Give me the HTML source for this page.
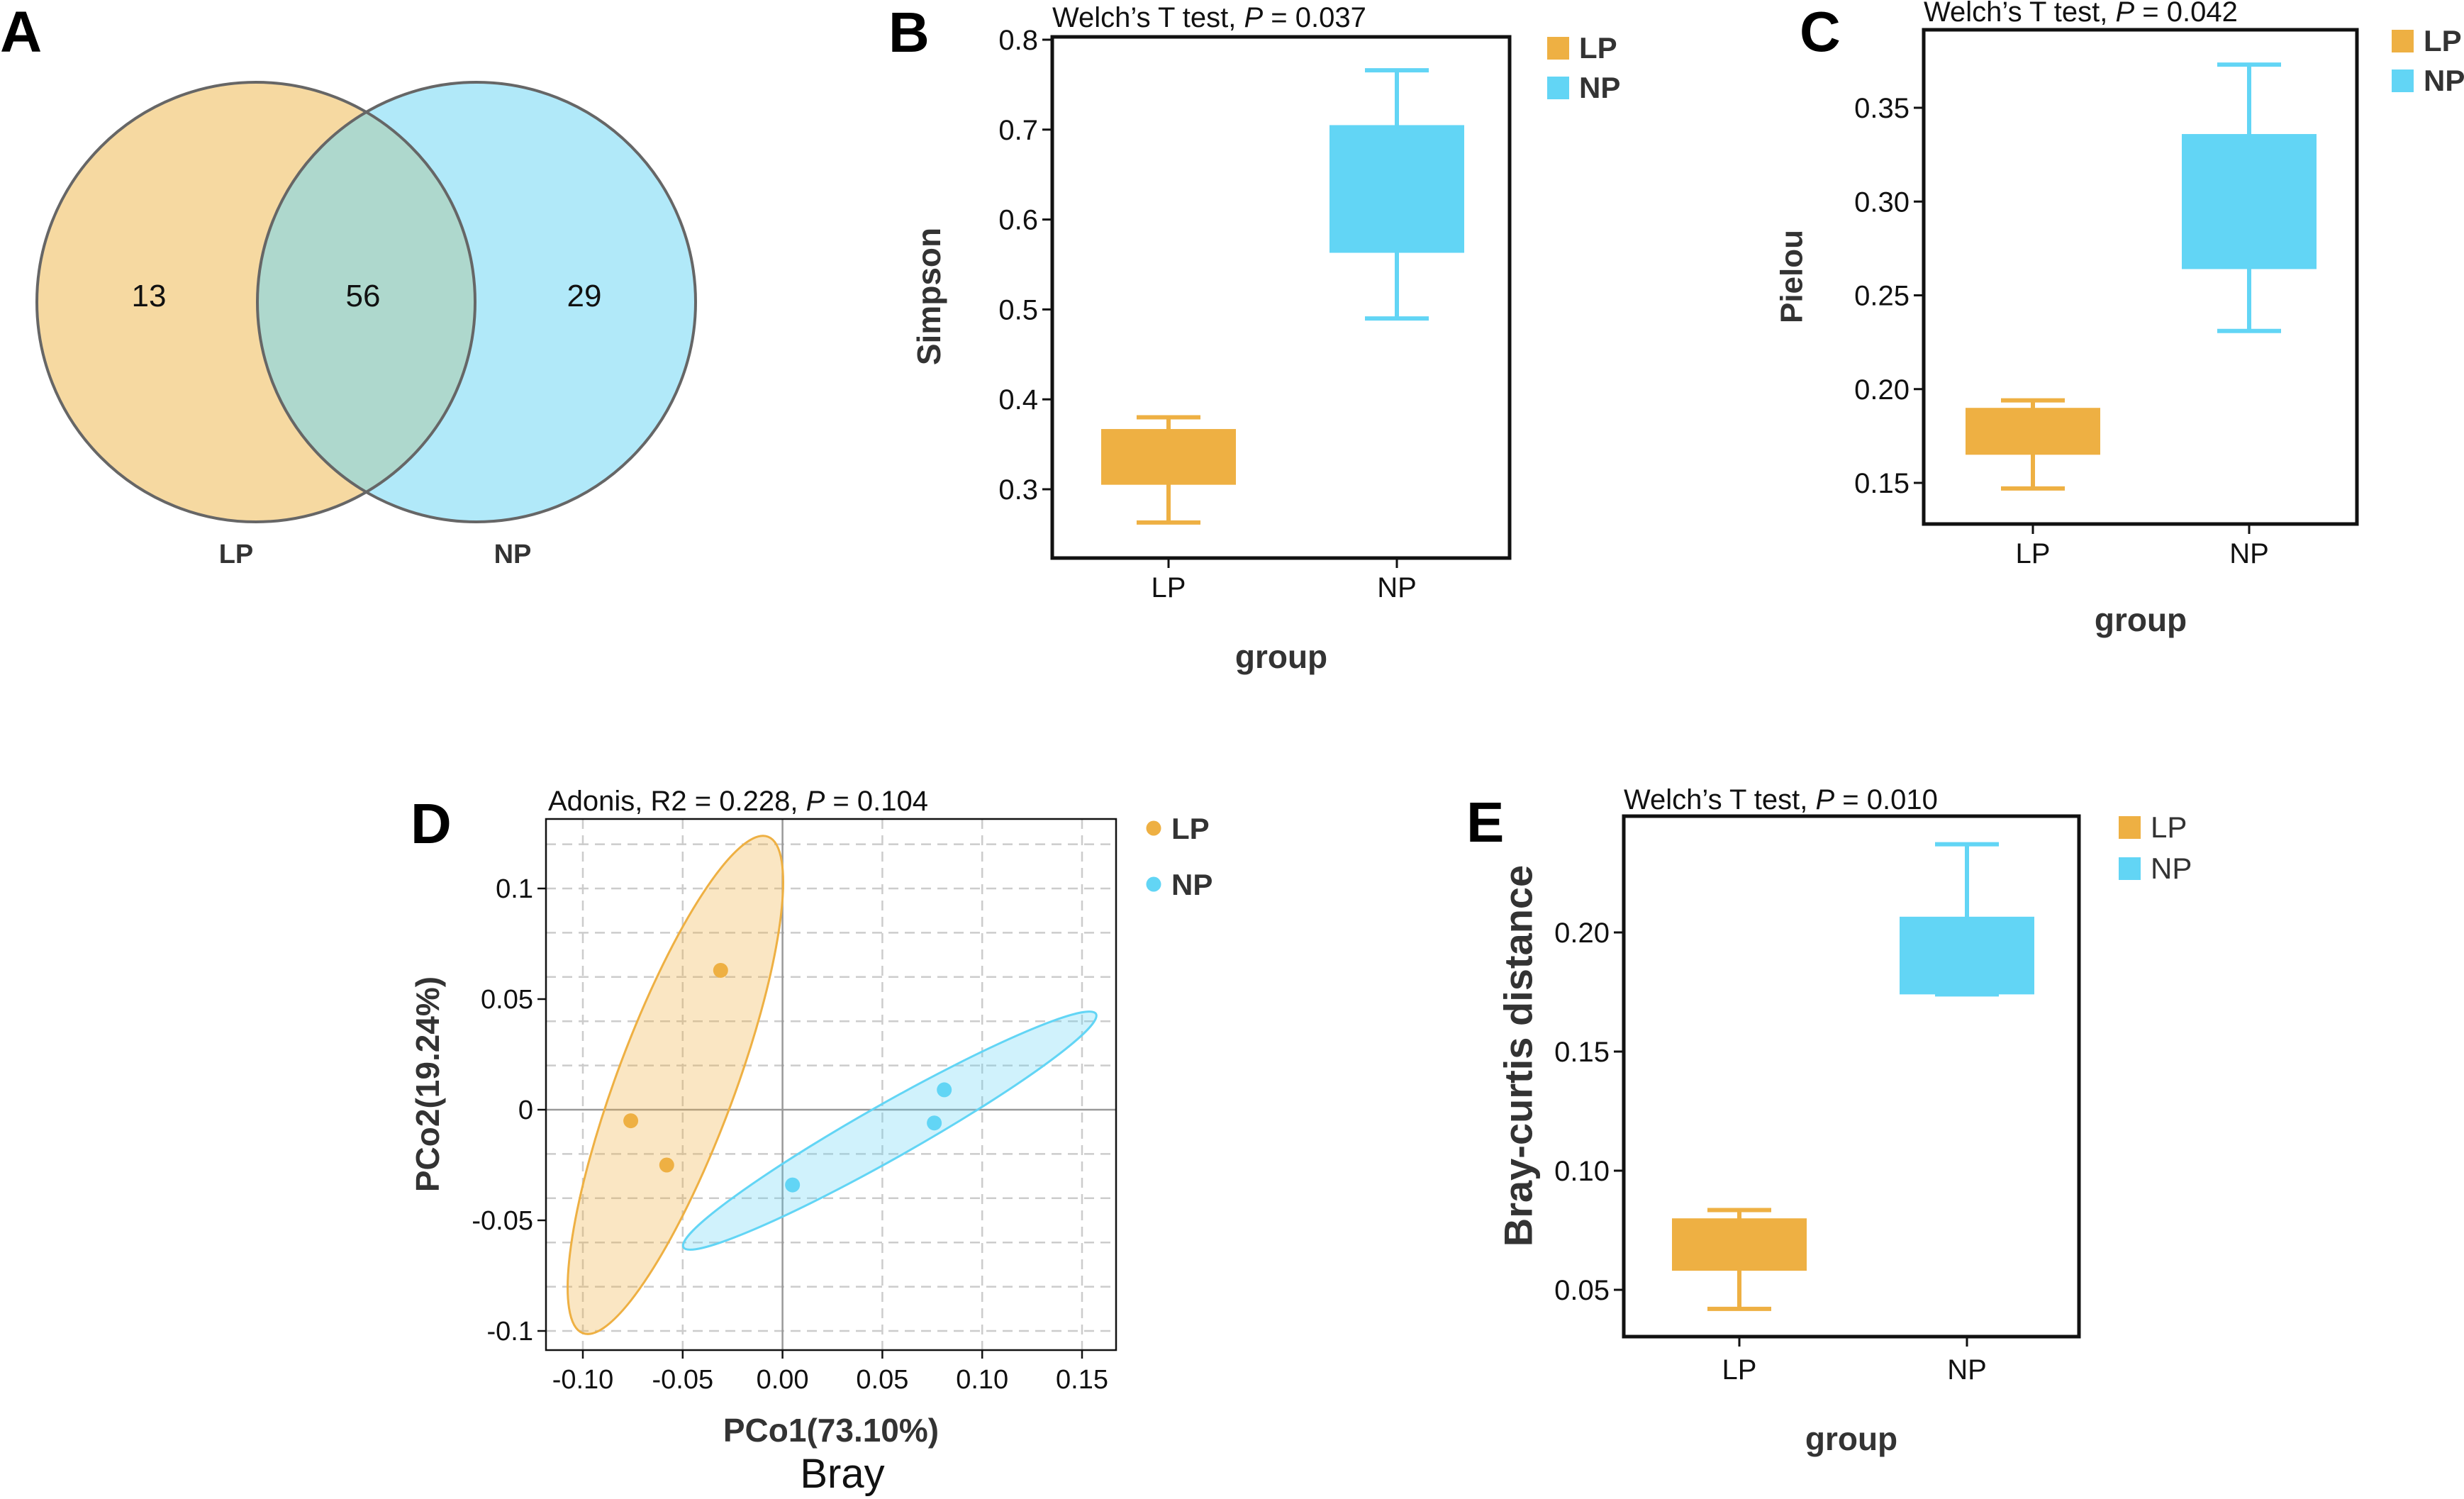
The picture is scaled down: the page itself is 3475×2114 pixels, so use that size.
<!DOCTYPE html>
<html><head><meta charset="utf-8">
<style>
html,body{margin:0;padding:0;background:#fff;}
svg{display:block;font-family:"Liberation Sans",Arial,sans-serif;}
</style></head>
<body>
<svg id="fig" width="3475" height="2114" viewBox="0 0 3475 2114" xmlns="http://www.w3.org/2000/svg">
<rect width="3475" height="2114" fill="#fff"/>
<!-- Panel A: Venn -->
<g>
<text x="0" y="73" font-size="82" font-weight="bold">A</text>
<defs><clipPath id="clipL"><ellipse cx="361" cy="426" rx="309" ry="310"/></clipPath></defs>
<ellipse cx="361" cy="426" rx="309" ry="310" fill="#F6D9A1"/>
<ellipse cx="672" cy="426" rx="309" ry="310" fill="#B1E9F9"/>
<ellipse cx="672" cy="426" rx="309" ry="310" fill="#AED8CD" clip-path="url(#clipL)"/>
<ellipse cx="361" cy="426" rx="309" ry="310" fill="none" stroke="#666" stroke-width="4"/>
<ellipse cx="672" cy="426" rx="309" ry="310" fill="none" stroke="#666" stroke-width="4"/>
<g font-size="44" text-anchor="middle" fill="#111">
<text x="210" y="432">13</text>
<text x="512" y="432">56</text>
<text x="824" y="432">29</text>
</g>
<g font-size="38" font-weight="bold" text-anchor="middle" fill="#333">
<text x="333" y="794">LP</text>
<text x="723" y="794">NP</text>
</g>
</g>
<g id="plots"></g>
</svg>
<script>
// ---------- data ----------
const groups = ["LP", "NP"];
// Panel B (Simpson): [whiskerLow, q1, q3, whiskerHigh]
const simpsonLP = [0.263, 0.305, 0.367, 0.380];
const simpsonNP = [0.490, 0.563, 0.705, 0.766];
const simpsonTicks = [0.3, 0.4, 0.5, 0.6, 0.7, 0.8];
const simpsonTickLabels = ["0.3", "0.4", "0.5", "0.6", "0.7", "0.8"];
// Panel C (Pielou)
const pielouLP = [0.147, 0.165, 0.190, 0.194];
const pielouNP = [0.231, 0.264, 0.336, 0.373];
const pielouTicks = [0.15, 0.20, 0.25, 0.30, 0.35];
const pielouTickLabels = ["0.15", "0.20", "0.25", "0.30", "0.35"];
// Panel E (Bray-curtis)
const brayLP = [0.042, 0.058, 0.080, 0.0835];
const brayNP = [0.174, 0.174, 0.2066, 0.237];
const brayTicks = [0.05, 0.10, 0.15, 0.20];
const brayTickLabels = ["0.05", "0.10", "0.15", "0.20"];
// Panel D (PCoA)
const pcoLPx = [-0.076, -0.058, -0.031];
const pcoLPy = [-0.005, -0.025, 0.063];
const pcoNPx = [0.005, 0.076, 0.081];
const pcoNPy = [-0.034, -0.006, 0.009];
// ellipse major-axis tips [x1,y1,x2,y2] in data units
const ellipseLP = [-0.100, -0.101, -0.0073, 0.1234];
const ellipseNP = [-0.0496, -0.0622, 0.157, 0.0433];
const pcoXTicks = [-0.10, -0.05, 0.00, 0.05, 0.10, 0.15];
const pcoXTickLabels = ["-0.10", "-0.05", "0.00", "0.05", "0.10", "0.15"];
const pcoYTicks = [-0.1, -0.05, 0, 0.05, 0.1];
const pcoYTickLabels = ["-0.1", "-0.05", "0", "0.05", "0.1"];
const pcoYGrid = [-0.1, -0.08, -0.06, -0.04, -0.02, 0.02, 0.04, 0.06, 0.08, 0.1, 0.12];

const ORANGE = "#EEB043", CYAN = "#62D5F5";
const NS = "http://www.w3.org/2000/svg";
const root = document.getElementById("plots");
function mk(tag, attrs, parent, text) {
  const e = document.createElementNS(NS, tag);
  for (const k in attrs) e.setAttribute(k, attrs[k]);
  if (text !== undefined) e.textContent = text;
  (parent || root).appendChild(e);
  return e;
}

function boxPanel(cfg) {
  const g = mk("g", {});
  
  
  const yS = v => cfg.y0px + (v - cfg.y0v) * (cfg.y1px - cfg.y0px) / (cfg.y1v - cfg.y0v);
  const t = mk("text", {x: cfg.letterX, y: cfg.letterY, "font-size": 80, "font-weight": "bold"}, g, cfg.letter);
  
  
  const ti = mk("text", {x: cfg.L, y: cfg.titleY, "font-size": 40, fill: "#111"}, g);
  
  
  mk("tspan", {}, ti, "Welch\u2019s T test, ");
  mk("tspan", {"font-style": "italic"}, ti, "P");
  mk("tspan", {}, ti, " = " + cfg.p);
  // boxes
  const series = [cfg.lp, cfg.np], cols = [ORANGE, CYAN];
  series.forEach((d, i) => {
    const cx = cfg.gx[i];
    const bg = mk("g", {}, g);
    
    
    mk("line", {x1: cx, x2: cx, y1: yS(d[0]), y2: yS(d[3]), stroke: cols[i], "stroke-width": 6}, bg);
    mk("line", {x1: cx - 45, x2: cx + 45, y1: yS(d[0]), y2: yS(d[0]), stroke: cols[i], "stroke-width": 6}, bg);
    mk("line", {x1: cx - 45, x2: cx + 45, y1: yS(d[3]), y2: yS(d[3]), stroke: cols[i], "stroke-width": 6}, bg);
    mk("rect", {x: cx - 95, y: yS(d[2]), width: 190, height: Math.max(2, yS(d[1]) - yS(d[2])), fill: cols[i]}, bg);
  });
  const fr = mk("rect", {x: cfg.L, y: cfg.T, width: cfg.R - cfg.L, height: cfg.B - cfg.T, fill: "none", stroke: "#111", "stroke-width": 5}, g);
  
  
  cfg.ticks.forEach((v, i) => {
    const y = yS(v);
    mk("line", {x1: cfg.L - 14, x2: cfg.L, y1: y, y2: y, stroke: "#111", "stroke-width": 3}, g);
    const tl = mk("text", {x: cfg.L - 20, y: y + 14, "font-size": 40, "text-anchor": "end", fill: "#111"}, g, cfg.tickLabels[i]);
    
    
  });
  groups.forEach((gname, i) => {
    mk("line", {x1: cfg.gx[i], x2: cfg.gx[i], y1: cfg.B, y2: cfg.B + 14, stroke: "#111", "stroke-width": 3}, g);
    const xl = mk("text", {x: cfg.gx[i], y: cfg.xLabY, "font-size": 40, "text-anchor": "middle", fill: "#111"}, g, gname);
    
    
  });
  const yt = mk("text", {x: cfg.yTitleX, y: cfg.yTitleY, "font-size": cfg.yTitleSize, "font-weight": "bold", fill: "#333", "text-anchor": "middle",
    transform: `rotate(-90 ${cfg.yTitleX} ${cfg.yTitleY})`, "dominant-baseline": "central"}, g, cfg.yTitle);
  
  
  const xt = mk("text", {x: cfg.groupX, y: cfg.groupY, "font-size": 46, "font-weight": "bold", fill: "#333", "text-anchor": "middle"}, g, "group");
  
  
  groups.forEach((gname, i) => {
    const lg = mk("g", {}, g);
    
    
    mk("rect", {x: cfg.legX, y: cfg.legY[i], width: 31, height: 32, fill: cols[i]}, lg);
    mk("text", {x: cfg.legX + 45, y: cfg.legY[i] + 30, "font-size": 42, "font-weight": cfg.legBold ? "bold" : "normal", fill: "#333"}, lg, gname);
  });
}

boxPanel({name: "simpson-boxplot", letter: "B", letterX: 1253, letterY: 73, p: "0.037", titleY: 38,
  L: 1484, R: 2129, T: 52, B: 787, y0v: 0.3, y0px: 690, y1v: 0.8, y1px: 56,
  lp: simpsonLP, np: simpsonNP, ticks: simpsonTicks, tickLabels: simpsonTickLabels, gx: [1648, 1970],
  xLabY: 842, yTitle: "Simpson", yTitleX: 1310, yTitleY: 418, yTitleSize: 46, groupX: 1807, groupY: 942,
  legX: 2182, legY: [52, 108], legBold: true});
boxPanel({name: "pielou-boxplot", letter: "C", letterX: 2538, letterY: 72, p: "0.042", titleY: 30,
  L: 2713, R: 3324, T: 42, B: 739, y0v: 0.15, y0px: 681, y1v: 0.35, y1px: 152,
  lp: pielouLP, np: pielouNP, ticks: pielouTicks, tickLabels: pielouTickLabels, gx: [2867, 3172],
  xLabY: 794, yTitle: "Pielou", yTitleX: 2527, yTitleY: 390, yTitleSize: 44, groupX: 3019, groupY: 890,
  legX: 3373, legY: [42, 98], legBold: true});
boxPanel({name: "bray-curtis-boxplot", letter: "E", letterX: 2068, letterY: 1187, p: "0.010", titleY: 1141,
  L: 2290, R: 2932, T: 1151, B: 1885, y0v: 0.05, y0px: 1819, y1v: 0.20, y1px: 1315,
  lp: brayLP, np: brayNP, ticks: brayTicks, tickLabels: brayTickLabels, gx: [2453, 2774],
  xLabY: 1945, yTitle: "Bray-curtis distance", yTitleX: 2141, yTitleY: 1489, yTitleSize: 56, groupX: 2611, groupY: 2045,
  legX: 2988, legY: [1151, 1209], legBold: false});

// ---------- Panel D: PCoA ----------
(function () {
  const L = 770, R = 1574, T = 1155, B = 1904;
  const xS = v => 1103.6 + v * (140.8 / 0.05);
  const yS = v => 1565 - v * 3120;
  const g = mk("g", {});
  
  
  const t = mk("text", {x: 579, y: 1189, "font-size": 80, "font-weight": "bold"}, g, "D");
  
  
  const ti = mk("text", {x: 773, y: 1143, "font-size": 40, fill: "#111"}, g);
  
  
  mk("tspan", {}, ti, "Adonis, R2 = 0.228, ");
  mk("tspan", {"font-style": "italic"}, ti, "P");
  mk("tspan", {}, ti, " = 0.104");
  // grid
  pcoYGrid.forEach(v => mk("line", {x1: L, x2: R, y1: yS(v), y2: yS(v), stroke: "#ccc", "stroke-width": 2.5, "stroke-dasharray": "14 9"}, g));
  pcoXTicks.forEach(v => { if (v !== 0) mk("line", {x1: xS(v), x2: xS(v), y1: T, y2: B, stroke: "#ccc", "stroke-width": 2.5, "stroke-dasharray": "14 9"}, g); });
  mk("line", {x1: xS(0), x2: xS(0), y1: T, y2: B, stroke: "#999", "stroke-width": 2.5}, g);
  mk("line", {x1: L, x2: R, y1: yS(0), y2: yS(0), stroke: "#999", "stroke-width": 2.5}, g);
  // ellipses
  function ell(tips, minor, col, fill, name) {
    const x1 = xS(tips[0]), y1 = yS(tips[1]), x2 = xS(tips[2]), y2 = yS(tips[3]);
    const cx = (x1 + x2) / 2, cy = (y1 + y2) / 2;
    const rx = Math.hypot(x2 - x1, y2 - y1) / 2;
    const ang = Math.atan2(y2 - y1, x2 - x1) * 180 / Math.PI;
    const e = mk("ellipse", {cx: cx, cy: cy, rx: rx, ry: minor, transform: `rotate(${ang} ${cx} ${cy})`, fill: fill, stroke: col, "stroke-width": 3}, g);
    
    
  }
  ell(ellipseLP, 83, ORANGE, "rgba(238,176,67,0.32)", "ellipse-lp");
  ell(ellipseNP, 38, CYAN, "rgba(98,213,245,0.30)", "ellipse-np");
  pcoLPx.forEach((v, i) => {
    const c = mk("circle", {cx: xS(v), cy: yS(pcoLPy[i]), r: 10.5, fill: ORANGE}, g);
    
    
  });
  pcoNPx.forEach((v, i) => {
    const c = mk("circle", {cx: xS(v), cy: yS(pcoNPy[i]), r: 10.5, fill: CYAN}, g);
    
    
  });
  const fr = mk("rect", {x: L, y: T, width: R - L, height: B - T, fill: "none", stroke: "#111", "stroke-width": 2.5}, g);
  
  
  pcoXTicks.forEach((v, i) => {
    mk("line", {x1: xS(v), x2: xS(v), y1: B, y2: B + 12, stroke: "#111", "stroke-width": 2.5}, g);
    const tl = mk("text", {x: xS(v), y: 1958, "font-size": 38, "text-anchor": "middle", fill: "#111"}, g, pcoXTickLabels[i]);
    
    
  });
  pcoYTicks.forEach((v, i) => {
    mk("line", {x1: L - 12, x2: L, y1: yS(v), y2: yS(v), stroke: "#111", "stroke-width": 2.5}, g);
    const tl = mk("text", {x: L - 18, y: yS(v) + 13, "font-size": 38, "text-anchor": "end", fill: "#111"}, g, pcoYTickLabels[i]);
    
    
  });
  const xt = mk("text", {x: 1172, y: 2033, "font-size": 46, "font-weight": "bold", fill: "#333", "text-anchor": "middle"}, g, "PCo1(73.10%)");
  
  
  const br = mk("text", {x: 1188, y: 2098, "font-size": 58, fill: "#111", "text-anchor": "middle"}, g, "Bray");
  
  
  const yt = mk("text", {x: 603, y: 1529, "font-size": 46, "font-weight": "bold", fill: "#333", "text-anchor": "middle", "dominant-baseline": "central",
    transform: "rotate(-90 603 1529)"}, g, "PCo2(19.24%)");
  
  
  const cols = [ORANGE, CYAN], ly = [1168, 1247];
  groups.forEach((gname, i) => {
    const lg = mk("g", {}, g);
    
    
    mk("circle", {cx: 1627, cy: ly[i], r: 10.5, fill: cols[i]}, lg);
    mk("text", {x: 1652, y: ly[i] + 15, "font-size": 42, "font-weight": "bold", fill: "#333"}, lg, gname);
  });
})();
</script>
</body></html>
